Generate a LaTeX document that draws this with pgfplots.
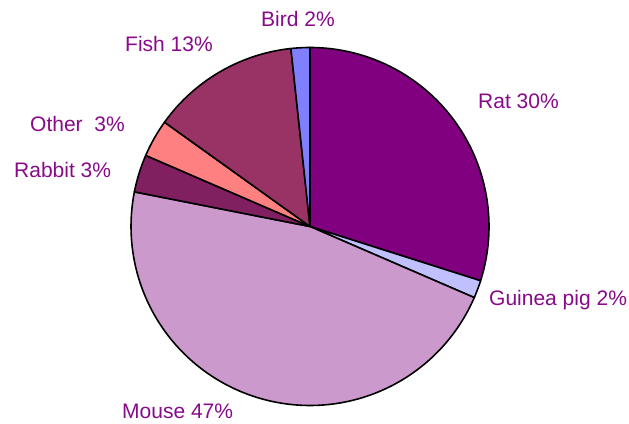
\documentclass[border=0pt]{standalone}
\usepackage{fontspec}
\setmainfont{Liberation Sans}
\usepackage{pgfplots}
\pgfplotsset{compat=1.18}

\definecolor{cRat}{RGB}{128,0,128}
\definecolor{cGuinea}{RGB}{192,192,255}
\definecolor{cMouse}{RGB}{204,153,204}
\definecolor{cRabbit}{RGB}{128,32,96}
\definecolor{cOther}{RGB}{255,128,128}
\definecolor{cFish}{RGB}{153,51,102}
\definecolor{cBird}{RGB}{128,128,255}
\definecolor{lab}{RGB}{136,10,136}

% pie centre and radius in axis units (1 unit = 1pt)
\def\cx{310}\def\cy{196.5}\def\rr{179}
\gdef\cum{0}
% #1 colour, #2 share in percent; slices run clockwise from 12 o'clock
\newcommand\slice[2]{%
  \pgfmathsetmacro\aStart{90-3.6*\cum}%
  \pgfmathsetmacro\aEnd{90-3.6*(\cum+#2)}%
  \edef\temp{\noexpand\addplot[fill=#1, draw=black, line width=1.6pt,
      line join=round, domain=\aEnd:\aStart, samples=90]
    ({\cx+\rr*cos(x)},{\cy+\rr*sin(x)}) -- (axis cs:\cx,\cy) -- cycle;}%
  \temp
  \pgfmathsetmacro\newcum{\cum+#2}%
  \xdef\cum{\newcum}%
}

\begin{document}
\begin{tikzpicture}
\begin{axis}[
    hide axis,
    scale only axis,
    width=629pt, height=423pt,
    xmin=0, xmax=629, ymin=0, ymax=423,
    clip=false,
  ]
  % keep the whole frame in the bounding box
  \path (axis cs:0,0) rectangle (axis cs:629,423);

  \slice{cRat}{29.9}
  \slice{cGuinea}{1.6}
  \slice{cMouse}{46.6}
  \slice{cRabbit}{3.4}
  \slice{cOther}{3.4}
  \slice{cFish}{13.4}
  \slice{cBird}{1.7}

  \begin{scope}[every node/.style={anchor=base west, text=lab,
      font=\fontsize{21}{25}\selectfont, inner sep=0pt}]
    \node at (axis cs:478,314) {Rat 30\%};
    \node at (axis cs:489,117) {Guinea pig 2\%};
    \node at (axis cs:122,5) {Mouse 47\%};
    \node at (axis cs:14,245) {Rabbit 3\%};
    \node at (axis cs:30,291) {Other\ \ 3\%};
    \node at (axis cs:125,371) {Fish 13\%};
    \node at (axis cs:261,396) {Bird 2\%};
  \end{scope}
\end{axis}
\end{tikzpicture}
\end{document}
